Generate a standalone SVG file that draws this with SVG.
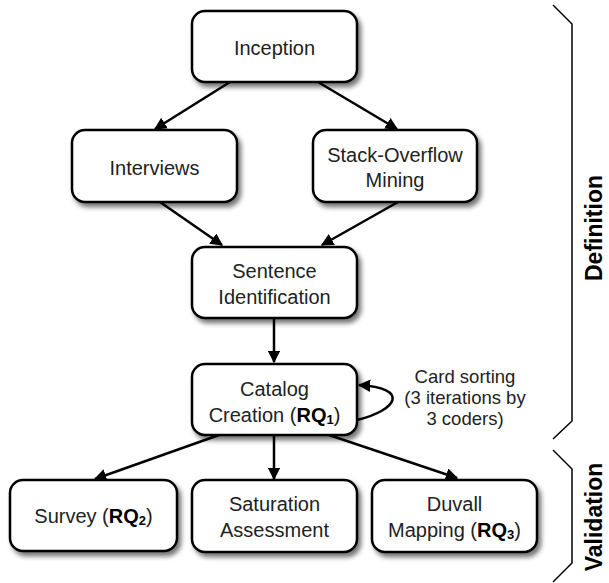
<svg xmlns="http://www.w3.org/2000/svg" width="609" height="583" viewBox="0 0 609 583">
<defs>
<filter id="sh" x="-10%" y="-10%" width="130%" height="140%">
<feGaussianBlur in="SourceAlpha" stdDeviation="2.5"/>
<feOffset dx="3" dy="4" result="b"/>
<feComponentTransfer><feFuncA type="linear" slope="0.55"/></feComponentTransfer>
<feMerge><feMergeNode/><feMergeNode in="SourceGraphic"/></feMerge>
</filter>
<marker id="ah" viewBox="0 0 10 10" refX="9" refY="5" markerWidth="5" markerHeight="5" orient="auto" markerUnits="strokeWidth">
<path d="M0,0 L10,5 L0,10 z" fill="#000"/>
</marker>
</defs>
<style>
.box{fill:#fff;stroke:#000;stroke-width:2.5;filter:url(#sh)}
.t{font-family:"Liberation Sans",Arial,sans-serif;font-size:20px;fill:#222;text-anchor:middle}
.b{font-weight:bold;fill:#000}
.sub{font-size:13px;font-weight:bold;fill:#000}
.c{fill:none;stroke:#000;stroke-width:2.5;marker-end:url(#ah)}
.br{fill:none;stroke:#000;stroke-width:1.5}
.lab{font-family:"Liberation Sans",Arial,sans-serif;font-size:23px;font-weight:bold;fill:#000;text-anchor:middle}
.note{font-family:"Liberation Sans",Arial,sans-serif;font-size:18.5px;fill:#222;text-anchor:middle}
</style>
<rect width="609" height="583" fill="#fff"/>
<g id="connectors">
<line class="c" x1="230" y1="82" x2="155" y2="129"/>
<line class="c" x1="318" y1="82" x2="397" y2="129"/>
<line class="c" x1="160" y1="202" x2="222" y2="245"/>
<line class="c" x1="398" y1="202" x2="322" y2="245"/>
<line class="c" x1="274" y1="318" x2="274" y2="362"/>
<line class="c" x1="219" y1="435" x2="95" y2="479"/>
<line class="c" x1="274" y1="435" x2="274" y2="479"/>
<line class="c" x1="329" y1="435" x2="457" y2="478"/>
<path class="c" d="M357,420 C398,410 410,388 359,385"/>
</g>
<g id="inception"><rect class="box" x="192" y="11" width="165" height="71" rx="13"/><text class="t" x="274.5" y="55">Inception</text></g>
<g id="interviews"><rect class="box" x="72" y="130" width="165" height="72" rx="13"/><text class="t" x="154.5" y="175">Interviews</text></g>
<g id="stackoverflow"><rect class="box" x="313" y="130" width="164" height="72" rx="13"/><text class="t" x="395" y="162">Stack-Overflow</text><text class="t" x="395" y="187">Mining</text></g>
<g id="sentence"><rect class="box" x="192" y="247" width="165" height="71" rx="13"/><text class="t" x="274.5" y="278">Sentence</text><text class="t" x="274.5" y="304">Identification</text></g>
<g id="catalog"><rect class="box" x="192" y="364" width="165" height="71" rx="13"/><text class="t" x="274.5" y="396">Catalog</text><text class="t" x="274.5" y="422">Creation (<tspan class="b">RQ</tspan><tspan class="sub" dy="2">1</tspan><tspan dy="-2">)</tspan></text></g>
<g id="survey"><rect class="box" x="10" y="480" width="167" height="71" rx="13"/><text class="t" x="93.5" y="523">Survey (<tspan class="b">RQ</tspan><tspan class="sub" dy="2">2</tspan><tspan dy="-2">)</tspan></text></g>
<g id="saturation"><rect class="box" x="192" y="480" width="165" height="72" rx="13"/><text class="t" x="274.5" y="511">Saturation</text><text class="t" x="274.5" y="537">Assessment</text></g>
<g id="duvall"><rect class="box" x="372" y="480" width="165" height="72" rx="13"/><text class="t" x="454.5" y="511">Duvall</text><text class="t" x="454.5" y="537">Mapping (<tspan class="b">RQ</tspan><tspan class="sub" dy="2">3</tspan><tspan dy="-2">)</tspan></text></g>
<g id="card-sorting-label"><text class="note" x="465" y="383">Card sorting</text><text class="note" x="465" y="404">(3 iterations by</text><text class="note" x="465" y="425">3 coders)</text></g>
<g id="definition-brace"><path class="br" d="M553,5 L572,24 L572,421 L553,439"/><text class="lab" transform="translate(602,228) rotate(-90)">Definition</text></g>
<g id="validation-brace"><path class="br" d="M553,450 L572,469 L572,563 L553,582"/><text class="lab" transform="translate(602,517) rotate(-90)">Validation</text></g>
</svg>
